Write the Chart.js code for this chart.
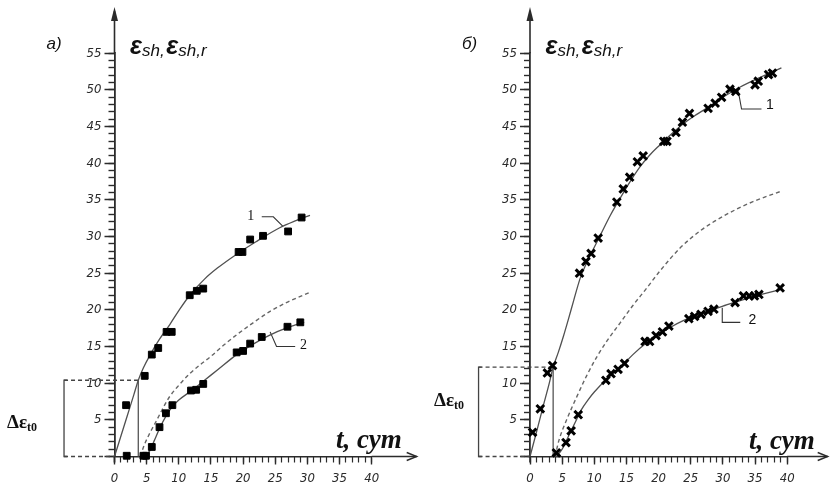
<!DOCTYPE html>
<html>
<head>
<meta charset="utf-8">
<script src="https://cdn.jsdelivr.net/npm/chart.js@4.4.1/dist/chart.umd.min.js"></script>
<style>
html,body{margin:0;padding:0;background:#fff;}
#wrap{position:relative;width:830px;height:486px;overflow:hidden;background:#fff;}
#ca{position:absolute;left:0;top:0;}
#cb{position:absolute;left:415px;top:0;}
</style>
</head>
<body>
<div id="wrap">
<canvas id="ca" width="425" height="486"></canvas>
<canvas id="cb" width="415" height="486"></canvas>
</div>
<script>
// ---------- tick labels ----------
const xTickLabels = [0, 5, 10, 15, 20, 25, 30, 35, 40];
const yTickLabels = [5, 10, 15, 20, 25, 30, 35, 40, 45, 50, 55];

// ---------- panel а) : measured points (squares) ----------
const aPoints1 = [[1.8,7.0],[4.7,11.0],[5.8,13.9],[6.8,14.8],[8.1,17.0],[8.9,17.0],[11.7,22.0],[12.8,22.6],[13.8,22.9],[19.3,27.9],[19.9,27.9],[21.1,29.6],[23.1,30.1],[27.0,30.7],[29.1,32.6]];
const aPoints2 = [[1.9,0.1],[4.5,0.1],[4.9,0.1],[5.8,1.3],[7.0,4.0],[8.0,5.9],[9.0,7.0],[11.9,9.0],[12.7,9.1],[13.8,9.9],[19.0,14.2],[20.0,14.4],[21.1,15.4],[22.9,16.3],[26.9,17.7],[28.9,18.3]];
// panel а) : fitted curves
const aCurve1 = [[0,0],[1,2.8],[2,5.6],[3,8.4],[3.7,10.4],[4.5,12.1],[5.5,13.8],[7,16.0],[8.6,18.0],[10,19.9],[11.7,22.0],[14,24.2],[16,25.7],[19,27.6],[22,29.3],[25.7,31.2],[28,32.1],[30.4,32.9]];
const aCurve2 = [[4.8,0],[5.5,0.8],[6.2,2.2],[7,3.8],[8,5.5],[9,6.8],[10,7.7],[12,9.0],[14,10.4],[16,11.8],[19,13.9],[21.5,15.3],[24,16.5],[27,17.6],[29.5,18.3]];
const aDashed = [[4.0,0],[4.6,1.5],[5.5,3.2],[6.6,5.0],[7.6,6.7],[8.6,8.2],[10,9.7],[11.7,11.3],[13.3,12.5],[14.9,13.6],[17,15.2],[19,16.6],[21.5,18.2],[24.2,19.8],[27,21.1],[30.4,22.4]];
const aDeltaEps = 10.4, aTCut = 3.7, aTBracket = -7.85;
const aLeader1 = [[22.9,32.7],[24.7,32.7],[26.2,31.4]];
const aLeader2 = [[24.2,17.0],[25.2,15.0],[28.1,15.0]];
const aLabel1 = [21.2,32.7], aLabel2 = [29.4,15.1];

// ---------- panel б) : measured points (crosses) ----------
const bPoints1 = [[0.4,3.3],[1.6,6.5],[2.7,11.4],[3.5,12.4],[7.7,25.0],[8.7,26.6],[9.5,27.7],[10.6,29.8],[13.5,34.7],[14.5,36.5],[15.5,38.1],[16.7,40.2],[17.6,41.0],[20.8,43.0],[21.3,43.0],[22.7,44.2],[23.7,45.6],[24.8,46.8],[27.7,47.5],[28.8,48.2],[29.8,49.0],[31.1,50.1],[32.0,49.8],[35.0,50.7],[35.5,51.2],[37.1,52.1],[37.7,52.3]];
const bPoints2 = [[4.1,0.5],[5.6,1.9],[6.4,3.5],[7.5,5.7],[11.8,10.4],[12.6,11.3],[13.7,11.9],[14.7,12.7],[17.9,15.7],[18.6,15.7],[19.6,16.5],[20.6,17.0],[21.6,17.8],[24.7,18.8],[25.6,19.1],[26.6,19.4],[27.7,19.8],[28.6,20.1],[31.9,21.0],[33.2,21.9],[34.1,21.9],[34.9,21.9],[35.6,22.1],[38.9,23.0]];
const bCurve1 = [[0,0],[1,3.3],[2,6.7],[3,10.0],[3.6,12.2],[4.4,14.2],[5.2,16.4],[6,18.8],[6.8,21.3],[7.8,24.3],[8.8,26.4],[9.8,28.2],[11,30.3],[12.5,32.9],[14,35.2],[15.5,37.4],[17.1,39.5],[18.6,41.1],[20.2,42.5],[22,44.0],[24,45.5],[26,46.7],[28,47.8],[30,49.0],[32.7,50.4],[36,51.8],[39.1,53.0]];
const bCurve2 = [[4.1,0],[5,1.0],[6,2.8],[7,4.6],[8,6.4],[9,7.7],[10,8.8],[12,10.6],[14,12.1],[16,13.9],[18,15.4],[20,16.6],[22,17.7],[24,18.6],[26,19.3],[28,19.9],[30,20.5],[32,21.1],[34,21.6],[36,22.1],[39,22.8]];
const bDashed = [[3.9,0],[4.5,2.2],[5.7,5.0],[7.3,8.2],[8.8,11.0],[10.4,13.6],[12,15.8],[14,18.2],[16,20.6],[18,22.8],[20.2,25.3],[23.3,28.4],[26.5,30.8],[30.1,32.8],[34.5,34.7],[39.1,36.2]];
const bDeltaEps = 12.2, bTCut = 3.6, bTBracket = -8.0;
const bLeader1 = [[32.4,49.8],[32.9,47.4],[36.0,47.4]];
const bLeader2 = [[29.9,20.3],[29.9,18.3],[32.7,18.3]];
const bLabel1 = [37.3,47.9], bLabel2 = [34.6,18.6];

// ---------- helpers ----------
const xy = arr => arr.map(([x, y]) => ({x, y}));
const INK = '#2b2b2b', CURVE = '#505050';

function lineDs(pts, extra) {
  return Object.assign({
    data: xy(pts), showLine: true, pointRadius: 0, borderColor: CURVE,
    borderWidth: 1.3, clip: false, tension: 0, fill: false
  }, extra || {});
}

const decor = {
  id: 'decor',
  afterDatasetsDraw(chart, args, o) {
    const xs = chart.scales.x, ys = chart.scales.y, ctx = chart.ctx;
    const X = v => xs.getPixelForValue(v), Y = v => ys.getPixelForValue(v);
    ctx.save();
    ctx.strokeStyle = INK; ctx.fillStyle = INK; ctx.lineWidth = 1.6;
    // y axis extension + arrow
    const x0 = X(0), yt = Y(o.yTip);
    ctx.beginPath(); ctx.moveTo(x0, Y(55)); ctx.lineTo(x0, yt + 4); ctx.stroke();
    ctx.beginPath(); ctx.moveTo(x0, yt); ctx.lineTo(x0 - 3.5, yt + 14); ctx.lineTo(x0 + 3.5, yt + 14); ctx.closePath(); ctx.fill();
    // y axis goes slightly below the time axis
    ctx.beginPath(); ctx.moveTo(x0, Y(0)); ctx.lineTo(x0, Y(0) + 6); ctx.stroke();
    // x axis extension + arrow
    const y0 = Y(0), xt = X(o.xTip);
    ctx.lineWidth = 1.4;
    ctx.beginPath(); ctx.moveTo(X(40), y0); ctx.lineTo(xt, y0); ctx.stroke();
    ctx.beginPath(); ctx.moveTo(xt - 10, y0 - 4); ctx.lineTo(xt, y0); ctx.lineTo(xt - 10, y0 + 4); ctx.stroke();

    ctx.fillStyle = '#111';
    ctx.textBaseline = 'alphabetic'; ctx.textAlign = 'left';
    // panel letter
    ctx.font = 'italic 17px "Liberation Sans", sans-serif';
    ctx.fillText(o.panel, x0 - 68, Y(55) - 4);
    // axis title eps_sh, eps_sh,r
    let tx = x0 + 15.5; const tb = Y(55) + 1;
    const eps = 'bold italic 25px "Liberation Sans", sans-serif';
    const sub = 'italic 17px "Liberation Sans", sans-serif';
    const parts = [[eps, 'ε', 0], [sub, 'sh, ', 2], [eps, 'ε', 0], [sub, 'sh,r', 2]];
    for (const [f, s, dy] of parts) { ctx.font = f; ctx.fillText(s, tx, tb + dy); tx += ctx.measureText(s).width - (s === 'sh, ' ? 3 : 0); }
    // time axis title
    ctx.font = 'bold italic 27px "Liberation Serif", serif';
    ctx.fillText('t, сут', o.tLabel[0], o.tLabel[1]);
    // delta eps label
    ctx.font = 'bold 19px "Liberation Serif", serif';
    ctx.fillText('Δε', o.dLabel[0], o.dLabel[1]);
    const w = ctx.measureText('Δε').width;
    ctx.font = 'bold 12px "Liberation Serif", serif';
    ctx.fillText('t0', o.dLabel[0] + w, o.dLabel[1] + 3);
    // curve labels
    ctx.font = o.numFont;
    ctx.textAlign = 'center'; ctx.textBaseline = 'middle';
    ctx.fillText('1', X(o.l1[0]), Y(o.l1[1]));
    ctx.fillText('2', X(o.l2[0]), Y(o.l2[1]));
    ctx.restore();
  }
};

const tickFont = {family: '"Liberation Sans Narrow", "DejaVu Sans Condensed", "DejaVu Sans", sans-serif', style: 'italic', size: 13};

function makePanel(id, p) {
  const ds = [];
  ds.push({data: xy(p.pts1), pointStyle: p.marker, pointRadius: p.radius, borderColor: '#000', backgroundColor: '#000', borderWidth: p.markerBW, clip: false});
  ds.push({data: xy(p.pts2), pointStyle: p.marker, pointRadius: p.radius, borderColor: '#000', backgroundColor: '#000', borderWidth: p.markerBW, clip: false});
  ds.push(lineDs(p.curve1, {cubicInterpolationMode: 'monotone'}));
  ds.push(lineDs(p.curve2, {cubicInterpolationMode: 'monotone'}));
  ds.push(lineDs(p.dashed, {cubicInterpolationMode: 'monotone', borderDash: [4, 3], borderColor: '#666', borderWidth: 1.4}));
  // Δε construction
  ds.push(lineDs([[p.tBr, 0], [0, 0]], {borderDash: [4, 3], borderColor: '#444', borderWidth: 1.3}));
  ds.push(lineDs([[p.tBr, p.dEps], [p.tCut, p.dEps]], {borderDash: [4, 3], borderColor: '#444', borderWidth: 1.3}));
  ds.push(lineDs([[p.tCut, 0], [p.tCut, p.dEps]], {borderColor: '#555', borderWidth: 1.3}));
  ds.push(lineDs([[p.tBr + 0.5, p.dEps], [p.tBr, p.dEps], [p.tBr, 0], [p.tBr + 0.5, 0]], {borderColor: '#444', borderWidth: 1.3}));
  // leaders
  ds.push(lineDs(p.lead1, {borderColor: '#333', borderWidth: 1.1}));
  ds.push(lineDs(p.lead2, {borderColor: '#333', borderWidth: 1.1}));

  const canvas = document.getElementById(id);
  const bottomH = 29.5;
  return new Chart(canvas, {
    type: 'scatter',
    data: {datasets: ds},
    plugins: [decor],
    options: {
      responsive: false, animation: false, events: [],
      layout: {padding: {left: 0, top: 53.3, right: canvas.width - p.left - 257.2, bottom: 0}},
      plugins: {legend: {display: false}, tooltip: {enabled: false},
        decor: {panel: p.panel, yTip: 61.3, xTip: p.xTip, tLabel: p.tLabel, dLabel: p.dLabel, l1: p.l1, l2: p.l2, numFont: p.numFont}},
      scales: {
        x: {type: 'linear', axis: 'x', position: 'bottom', weight: 1, min: 0, max: 40,
          afterFit: s => { s.height = bottomH; },
          ticks: {stepSize: 5, autoSkip: false, maxRotation: 0, color: '#2a2a2a', font: tickFont, padding: 6,
            callback: v => xTickLabels.includes(v) ? String(v) : ''},
          grid: {drawOnChartArea: false, tickLength: 8, tickWidth: 1.4, tickColor: INK},
          border: {display: true, color: INK, width: 1.6}},
        xm: {type: 'linear', axis: 'x', position: 'bottom', weight: 0, min: 0, max: 40,
          afterFit: s => { s.height = 0; },
          ticks: {stepSize: 1, autoSkip: false, maxRotation: 0, callback: () => ''},
          grid: {drawOnChartArea: false, tickLength: 6, tickWidth: 1.2, tickColor: INK},
          border: {display: false}},
        y: {type: 'linear', axis: 'y', position: 'left', weight: 1, min: 0, max: 55,
          afterFit: s => { s.width = p.left; },
          ticks: {stepSize: 5, autoSkip: false, color: '#2a2a2a', font: tickFont, padding: 3,
            callback: v => yTickLabels.includes(v) ? String(v) : ''},
          grid: {drawOnChartArea: false, tickLength: 10, tickWidth: 1.5, tickColor: INK},
          border: {display: true, color: INK, width: 1.8}},
        ym: {type: 'linear', axis: 'y', position: 'left', weight: 0, min: 0, max: 55,
          afterFit: s => { s.width = 0; },
          ticks: {stepSize: 1, autoSkip: false, callback: () => ''},
          grid: {drawOnChartArea: false, tickLength: 6, tickWidth: 1.4, tickColor: INK},
          border: {display: false}}
      }
    }
  });
}

makePanel('ca', {
  panel: 'а)', left: 114.5, xTip: 47.0,
  pts1: aPoints1, pts2: aPoints2, curve1: aCurve1, curve2: aCurve2, dashed: aDashed,
  marker: 'rect', radius: 4.8, markerBW: 1,
  dEps: aDeltaEps, tCut: aTCut, tBr: aTBracket,
  lead1: aLeader1, lead2: aLeader2, l1: aLabel1, l2: aLabel2,
  tLabel: [336, 448], dLabel: [7, 428], numFont: '14px "Liberation Serif", serif'
});
makePanel('cb', {
  panel: 'б)', left: 115, xTip: 46.3,
  pts1: bPoints1, pts2: bPoints2, curve1: bCurve1, curve2: bCurve2, dashed: bDashed,
  marker: 'crossRot', radius: 5.4, markerBW: 3,
  dEps: bDeltaEps, tCut: bTCut, tBr: bTBracket,
  lead1: bLeader1, lead2: bLeader2, l1: bLabel1, l2: bLabel2,
  tLabel: [334, 449], dLabel: [19, 406], numFont: '14px "Liberation Sans", sans-serif'
});
</script>
</body>
</html>
